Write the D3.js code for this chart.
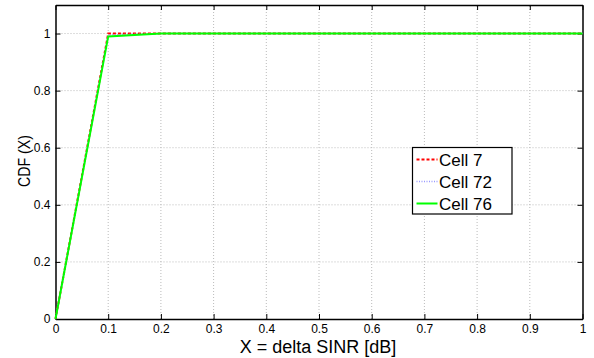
<!DOCTYPE html>
<html>
<head>
<meta charset="utf-8">
<script src="https://cdn.jsdelivr.net/npm/d3@7"></script>
<style>
  body { margin: 0; background: #fff; }
  text { font-family: "Liberation Sans", Arial, sans-serif; }
</style>
</head>
<body>
<div id="chart"></div>
<script>
// x grid of delta SINR [dB]
var xValues = [0, 0.1, 0.2, 0.3, 0.4, 0.5, 0.6, 0.7, 0.8, 0.9, 1];
var cell7 = [0, 1.0, 1, 1, 1, 1, 1, 1, 1, 1, 1];
var cell72 = [0, 0.995, 1, 1, 1, 1, 1, 1, 1, 1, 1];
var cell76 = [0, 0.99, 1, 1, 1, 1, 1, 1, 1, 1, 1];
var seriesNames = ["Cell 7", "Cell 72", "Cell 76"];
var xTicks = [0, 0.1, 0.2, 0.3, 0.4, 0.5, 0.6, 0.7, 0.8, 0.9, 1];
var yTicks = [0, 0.2, 0.4, 0.6, 0.8, 1];

var width = 594, height = 358;
var margin = { left: 55.5, right: 11.5, top: 5, bottom: 39 };

var svg = d3.select('#chart')
    .append('svg')
    .attr('width', width)
    .attr('height', height);

var x = d3.scaleLinear().domain([0, 1]).range([margin.left, width - margin.right]);
var y = d3.scaleLinear().domain([0, 1.1]).range([height - margin.bottom, margin.top]);

// grid
svg.append('g').selectAll('line.gx')
    .data(xTicks.slice(1, -1))
    .enter().append('line')
    .attr('x1', d => x(d)).attr('x2', d => x(d))
    .attr('y1', y(0)).attr('y2', y(1.1))
    .attr('stroke', '#bbb').attr('stroke-width', 1)
    .attr('stroke-dasharray', '1,2');
svg.append('g').selectAll('line.gy')
    .data(yTicks.slice(1))
    .enter().append('line')
    .attr('x1', x(0)).attr('x2', x(1))
    .attr('y1', d => y(d)).attr('y2', d => y(d))
    .attr('stroke', '#bbb').attr('stroke-width', 1)
    .attr('stroke-dasharray', '1,2');

// axes (ticks pointing inward, box style)
var fmt = d => String(d);
var xAxis = svg.append('g')
    .attr('transform', 'translate(0,' + y(0) + ')')
    .call(d3.axisBottom(x).tickValues(xTicks).tickSizeInner(-5).tickSizeOuter(0).tickPadding(7).tickFormat(fmt));
var xAxisTop = svg.append('g')
    .attr('transform', 'translate(0,' + y(1.1) + ')')
    .call(d3.axisTop(x).tickValues(xTicks).tickSizeInner(-5).tickSizeOuter(0).tickFormat(''));
var yAxis = svg.append('g')
    .attr('transform', 'translate(' + x(0) + ',0)')
    .call(d3.axisLeft(y).tickValues(yTicks).tickSizeInner(-5).tickSizeOuter(0).tickPadding(5).tickFormat(fmt));
var yAxisRight = svg.append('g')
    .attr('transform', 'translate(' + x(1) + ',0)')
    .call(d3.axisRight(y).tickValues(yTicks).tickSizeInner(-5).tickSizeOuter(0).tickFormat(''));

[xAxis, xAxisTop, yAxis, yAxisRight].forEach(function (g) {
    g.selectAll('path').attr('stroke', '#000').attr('stroke-width', 1.5);
    g.selectAll('line').attr('stroke', '#000');
    g.selectAll('text').attr('fill', '#000').style('font-size', '12px')
        .style('font-family', '"Liberation Sans", Arial, sans-serif');
});
xAxis.selectAll('text').attr('dy', '0.6em');

// series
var line = d3.line()
    .x(function (d, i) { return x(xValues[i]); })
    .y(function (d) { return y(d); });

var styles = [
    { color: '#ff0000', dash: '3,2', width: 2 },
    { color: '#9999ff', dash: '1,1.5', width: 1.5 },
    { color: '#00ff00', dash: null, width: 2 }
];
var allSeries = [cell7, cell72, cell76];

svg.append('g').selectAll('path')
    .data(allSeries)
    .enter().append('path')
    .attr('d', line)
    .attr('fill', 'none')
    .attr('stroke', (d, i) => styles[i].color)
    .attr('stroke-width', (d, i) => styles[i].width)
    .attr('stroke-dasharray', (d, i) => styles[i].dash);

// axis labels
svg.append('text')
    .attr('x', 318)
    .attr('y', 353)
    .attr('text-anchor', 'middle')
    .style('font-size', '18px')
    .text('X = delta SINR [dB]');

svg.append('text')
    .attr('transform', 'translate(30,161) rotate(-90)')
    .attr('text-anchor', 'middle')
    .attr('textLength', 52)
    .attr('lengthAdjust', 'spacingAndGlyphs')
    .style('font-size', '17px')
    .text('CDF (X)');

// legend
var legend = svg.append('g').attr('transform', 'translate(412.5,147.5)');
legend.append('rect')
    .attr('width', 99.5).attr('height', 66.5)
    .attr('fill', '#fff').attr('stroke', '#000').attr('stroke-width', 1.2);

var item = legend.selectAll('g.item')
    .data(seriesNames)
    .enter().append('g')
    .attr('transform', (d, i) => 'translate(0,' + (12 + i * 22) + ')');
item.append('line')
    .attr('x1', 4).attr('x2', 25).attr('y1', 0).attr('y2', 0)
    .attr('stroke', (d, i) => styles[i].color)
    .attr('stroke-width', (d, i) => styles[i].width)
    .attr('stroke-dasharray', (d, i) => styles[i].dash);
item.append('text')
    .attr('x', 26.5).attr('y', 0).attr('dy', '0.36em')
    .style('font-size', '17px')
    .text(d => d);
</script>
</body>
</html>
